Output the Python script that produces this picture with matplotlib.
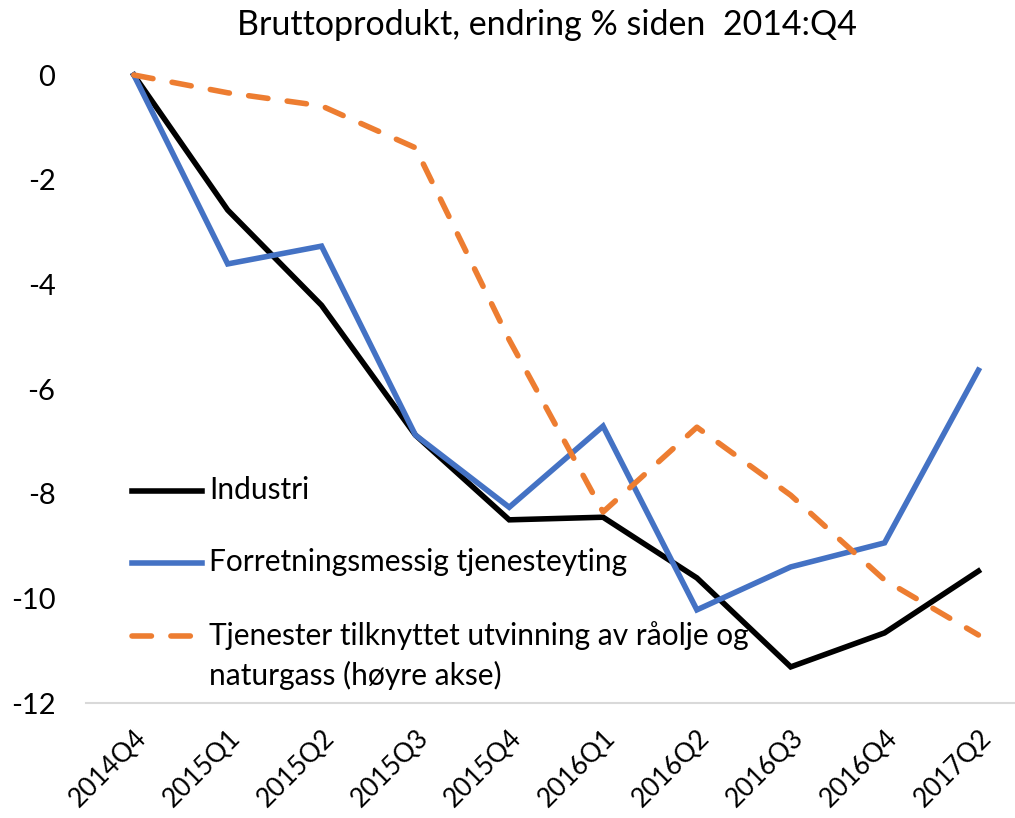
import matplotlib.pyplot as plt
from matplotlib.lines import Line2D
from matplotlib.transforms import ScaledTranslation

plt.rcParams['font.family'] = ['Lato', 'DejaVu Sans']
plt.rcParams['axes.unicode_minus'] = False

quarters = ['2014Q4', '2015Q1', '2015Q2', '2015Q3', '2015Q4',
            '2016Q1', '2016Q2', '2016Q3', '2016Q4', '2017Q2']

industri = [0, -2.58, -4.40, -6.88, -8.50, -8.45, -9.61, -11.31, -10.66, -9.48]
forretning = [0, -3.61, -3.27, -6.88, -8.26, -6.71, -10.22, -9.40, -8.94, -5.64]
tjenester_olje = [0, -0.34, -0.59, -1.39, -5.06, -8.35, -6.73, -8.03, -9.65, -10.70]

labels = ['Industri',
          'Forretningsmessig tjenesteyting',
          'Tjenester tilknyttet utvinning av råolje og\nnaturgass (høyre akse)']
colors = ['black', '#4472C4', '#ED7D31']
styles = ['-', '-', (0, (3.5, 3.5))]

W, H = 1015, 818
fig = plt.figure(figsize=(W / 100, H / 100), dpi=100)
ax = fig.add_axes([86 / W, 1 - 703 / H, 1 - 86 / W, 628 / H])

x = range(len(quarters))
for vals, c, ls in zip([industri, forretning, tjenester_olje], colors, styles):
    ax.plot(x, vals, color=c, lw=4, ls=ls, clip_on=False,
            solid_joinstyle='miter', dash_capstyle='round')

ax.set_xlim(-0.51, 9.39)
ax.set_ylim(-12, 0)
ax.set_yticks(range(-12, 1, 2))
ax.set_xticks(list(x))
ax.set_xticklabels(quarters, rotation=45, ha='right', va='top',
                   rotation_mode='anchor', fontsize=19)

for s in ['top', 'right', 'left']:
    ax.spines[s].set_visible(False)
ax.spines['bottom'].set_color('#d9d9d9')
ax.spines['bottom'].set_linewidth(1.5)
ax.tick_params(axis='both', length=0)
ax.tick_params(axis='y', labelsize=21, pad=22)
ax.tick_params(axis='x', pad=16)

fig.text(547 / W, 1 - 25 / H, 'Bruttoprodukt, endring % siden  2014:Q4',
         fontsize=24.5, ha='center', va='center')

# legend drawn by hand so the handle lines up with the first text line
legend_y = [491, 563, 636]
shift = ScaledTranslation(0, 0.145, fig.dpi_scale_trans)
for lab, c, ls, ly in zip(labels, colors, styles, legend_y):
    fy = 1 - ly / H
    fig.add_artist(Line2D([132 / W, 202 / W], [fy, fy], color=c, lw=4, ls=ls,
                          dash_capstyle='round', transform=fig.transFigure))
    fig.text(209 / W, fy, lab, fontsize=21.5, ha='left', va='top',
             linespacing=1.45, transform=fig.transFigure + shift)

fig.savefig('out.png', dpi=100)
